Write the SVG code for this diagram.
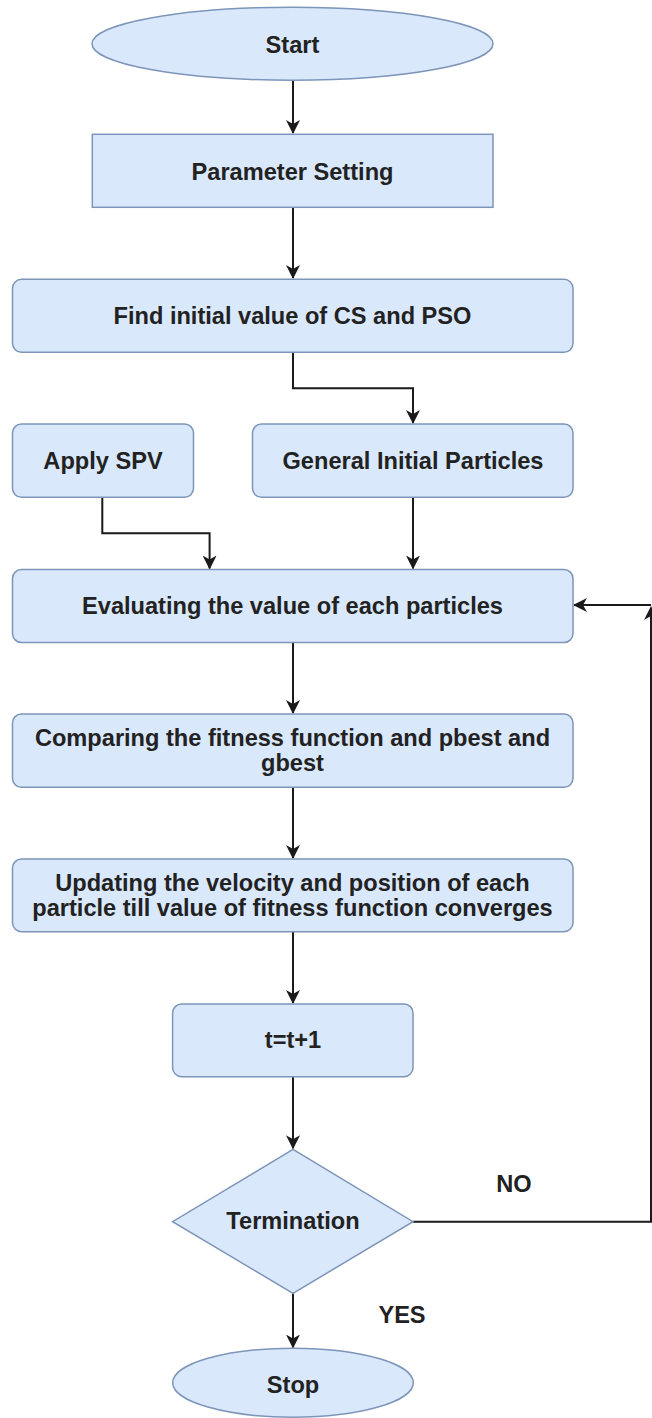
<svg xmlns="http://www.w3.org/2000/svg" width="652" height="1418" viewBox="0 0 652 1418">
<style>
.n{fill:#dae8fc;stroke:#7d95b8;stroke-width:1.5}
.t{font-family:"Liberation Sans",Arial,sans-serif;font-weight:bold;font-size:23.6px;fill:#222;text-anchor:middle}
.c{fill:none;stroke:#1a1a1a;stroke-width:2}
</style>
<defs>
<marker id="ah" markerUnits="userSpaceOnUse" markerWidth="14" markerHeight="14" viewBox="0 0 14 14" refX="13" refY="7" orient="auto">
<path d="M0,0 L14,7 L0,14 L4,7 z" fill="#1a1a1a"/>
</marker>
</defs>
<rect width="652" height="1418" fill="#fff"/>
<g id="connectors">
<path class="c" d="M293,80 V133" marker-end="url(#ah)"/>
<path class="c" d="M293,207 V278" marker-end="url(#ah)"/>
<path class="c" d="M293,352 V388.3 H413 V423" marker-end="url(#ah)"/>
<path class="c" d="M102.3,497 V533.3 H209.6 V568.5" marker-end="url(#ah)"/>
<path class="c" d="M413,497 V568.5" marker-end="url(#ah)"/>
<path class="c" d="M293,642.5 V713" marker-end="url(#ah)"/>
<path class="c" d="M293,787 V858" marker-end="url(#ah)"/>
<path class="c" d="M293,932 V1003" marker-end="url(#ah)"/>
<path class="c" d="M293,1077 V1148.3" marker-end="url(#ah)"/>
<path class="c" d="M293,1293.3 V1347.5" marker-end="url(#ah)"/>
<path class="c" d="M413,1221.7 H651 V608"/>
<path class="c" d="M651,605 H574" marker-end="url(#ah)"/>
<path d="M651,606 L658,620 L651,616 L644,620 z" fill="#1a1a1a"/>
<text class="t" x="514" y="1191.7">NO</text>
<text class="t" x="402" y="1323.3">YES</text>
</g>
<g id="start"><ellipse class="n" cx="292.5" cy="43.7" rx="200.5" ry="36.5"/><text class="t" x="292.5" y="52.5">Start</text></g>
<g id="param"><rect class="n" x="92.3" y="134.3" width="400.7" height="73"/><text class="t" x="292.5" y="179.5">Parameter Setting</text></g>
<g id="find"><rect class="n" x="12.5" y="279.3" width="560.5" height="73" rx="9"/><text class="t" x="292.5" y="323.5">Find initial value of CS and PSO</text></g>
<g id="spv"><rect class="n" x="12.5" y="424" width="181" height="73.3" rx="9"/><text class="t" x="103" y="468.5">Apply SPV</text></g>
<g id="gip"><rect class="n" x="252.5" y="424" width="320.5" height="73.3" rx="9"/><text class="t" x="413" y="468.5">General Initial Particles</text></g>
<g id="eval"><rect class="n" x="12.5" y="569.5" width="560.5" height="73" rx="9"/><text class="t" x="292.5" y="613.5">Evaluating the value of each particles</text></g>
<g id="compare"><rect class="n" x="12.5" y="714" width="560.5" height="73.3" rx="9"/><text class="t" x="292.5" y="745.7">Comparing the fitness function and pbest and</text><text class="t" x="292.5" y="770.7">gbest</text></g>
<g id="update"><rect class="n" x="12.5" y="859" width="560.5" height="72.7" rx="9"/><text class="t" x="292.5" y="890.7">Updating the velocity and position of each</text><text class="t" x="292.5" y="916">particle till value of fitness function converges</text></g>
<g id="tinc"><rect class="n" x="172.6" y="1004" width="240.4" height="72.7" rx="9"/><text class="t" x="293" y="1048.3">t=t+1</text></g>
<g id="term"><polygon class="n" points="293,1149.3 413,1221.7 293,1293.3 172.6,1221.7"/><text class="t" x="293" y="1229.3">Termination</text></g>
<g id="stop"><ellipse class="n" cx="293" cy="1382.7" rx="120.3" ry="34.5"/><text class="t" x="293" y="1392.5">Stop</text></g>
</svg>
